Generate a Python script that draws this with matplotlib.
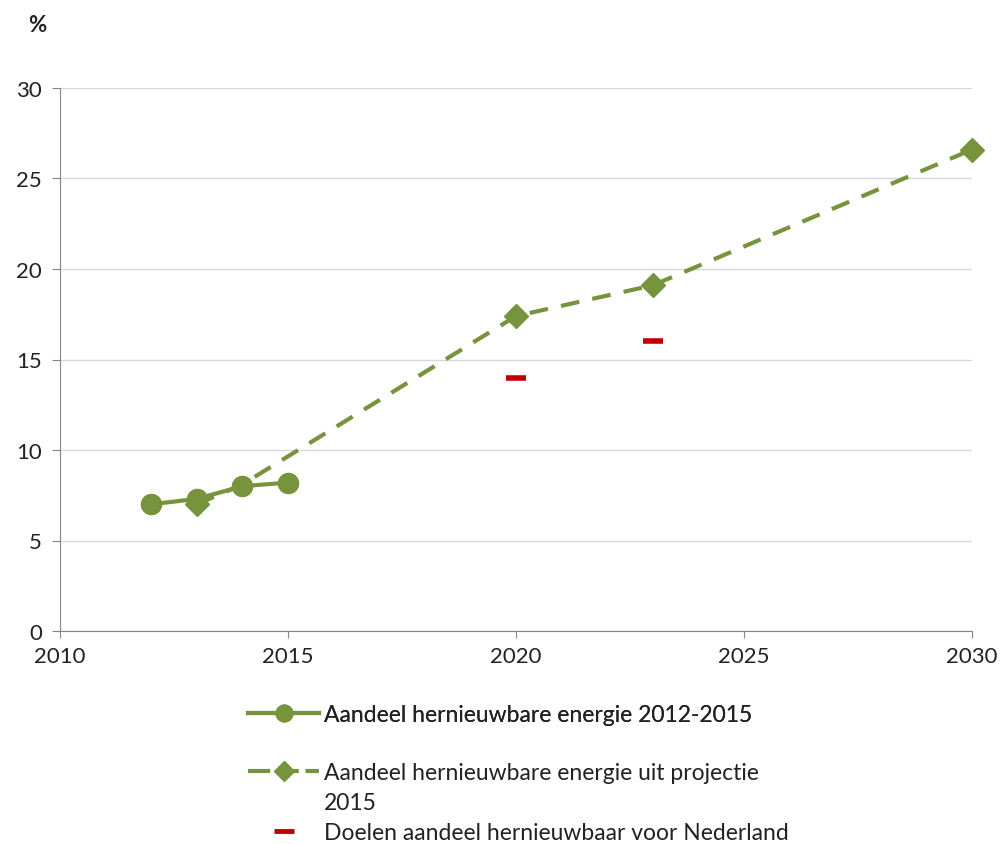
import matplotlib
matplotlib.use("Agg")
import matplotlib.pyplot as plt
from matplotlib.lines import Line2D

plt.rcParams['font.family'] = ['Lato', 'DejaVu Sans']

# Data
years_hist = [2012, 2013, 2014, 2015]
share_hist = [7.0, 7.3, 8.0, 8.2]

years_proj = [2013, 2014, 2020, 2023, 2030]
share_proj = [7.0, 8.1, 17.4, 19.1, 26.6]
proj_marker_idx = [0, 2, 3, 4]

years_target = [2020, 2023]
share_target = [14.0, 16.0]

x_ticks = [2010, 2015, 2020, 2025, 2030]
y_ticks = [0, 5, 10, 15, 20, 25, 30]

label_hist = "Aandeel hernieuwbare energie 2012-2015"
label_proj = "Aandeel hernieuwbare energie uit projectie\n2015"
label_target = "Doelen aandeel hernieuwbaar voor Nederland"

green = "#77933C"
red = "#C00000"
gray = "#868686"
txt = "#222222"

fig = plt.figure(figsize=(10.02, 8.45), dpi=100)
ax = fig.add_axes([60/1002, 1-632/845, (972-60)/1002, (632-89)/845])

ax.plot(years_proj, share_proj, color=green, lw=3, linestyle=(0, (4.5, 3.2)),
        marker='D', markersize=12, markevery=proj_marker_idx, zorder=3, clip_on=False)
ax.plot(years_hist, share_hist, color=green, lw=3, marker='o', markersize=14.5, zorder=4)
ax.plot(years_target, share_target, color=red, linestyle='none', marker='_',
        markersize=15, markeredgewidth=4, zorder=5)

ax.set_xlim(2010, 2030)
ax.set_ylim(0, 30)
ax.set_xticks(x_ticks)
ax.set_yticks(y_ticks)
ax.grid(axis='y', color='#D9D9D9', lw=1)
ax.set_axisbelow(True)
for s in ['top', 'right']:
    ax.spines[s].set_visible(False)
for s in ['left', 'bottom']:
    ax.spines[s].set_color(gray)
ax.tick_params(axis='y', length=6, color=gray, labelsize=16, pad=7, labelcolor=txt)
ax.tick_params(axis='x', length=5, color=gray, labelsize=16, pad=6, labelcolor=txt)

fig.text(37/1002, 1-25/845, "%", ha='center', va='center', fontsize=16, fontweight='bold',
         color=txt)

h1 = Line2D([], [], color=green, lw=3, marker='o', markersize=12)
h2 = Line2D([], [], color=green, lw=3, linestyle=(0, (5.3, 1.6)), marker='D', markersize=10)
h_blank = Line2D([], [], lw=0, alpha=0)
h3 = Line2D([], [], color=red, lw=0, marker='_', markersize=15, markeredgewidth=3.5)

proj_lines = label_proj.split("\n")

leg1 = fig.legend([h1], [label_hist], loc='center left',
                  bbox_to_anchor=(248/1002, 1-716/845), frameon=False, fontsize=16.5,
                  handlelength=3.1, handletextpad=0.2, borderaxespad=0, borderpad=0)
fig.add_artist(leg1)
leg2 = fig.legend([h2, h_blank, h3], [proj_lines[0], proj_lines[1], label_target],
                  loc='upper left',
                  bbox_to_anchor=(248/1002, 1-763/845), frameon=False, fontsize=16.5,
                  handlelength=3.1, handletextpad=0.2, labelspacing=0.4,
                  borderaxespad=0, borderpad=0)
for leg in (leg1, leg2):
    for t in leg.get_texts():
        t.set_color(txt)

fig.savefig("out.png", dpi=100)
